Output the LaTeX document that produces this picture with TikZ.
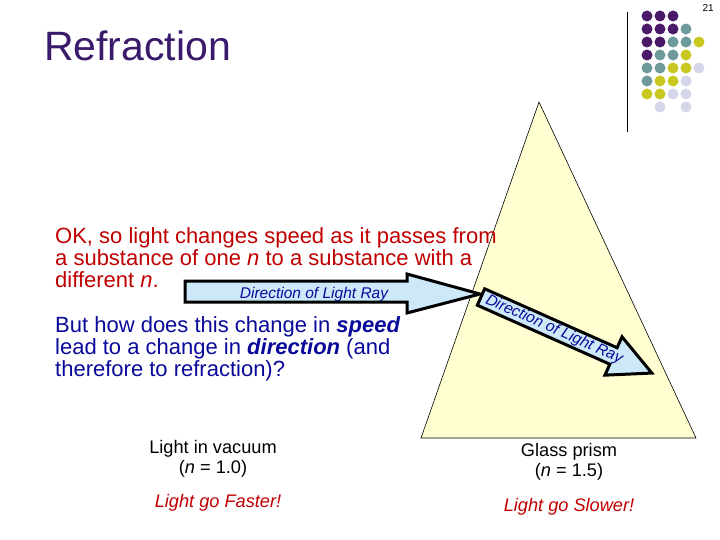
\documentclass[tikz,border=0pt]{standalone}
\usepackage{fontspec}
\setmainfont{Liberation Sans}
\definecolor{ttl}{HTML}{3A1A6A}
\definecolor{rd}{HTML}{C00000}
\definecolor{bl}{HTML}{0A0A9A}
\definecolor{pp}{HTML}{4A1A68}
\definecolor{tl}{HTML}{6E9A9C}
\definecolor{yl}{HTML}{C8C820}
\definecolor{lv}{HTML}{D6D6EA}
\definecolor{prism}{HTML}{FFFFD2}
\definecolor{arr}{HTML}{CDE8F8}
\begin{document}
\begin{tikzpicture}[x=1pt,y=-1pt,
  dot/.style={circle,inner sep=0pt,minimum size=11pt},
  bodytxt/.style={anchor=north west,align=left,font=\fontsize{22}{22}\selectfont,inner sep=0pt},
  captxt/.style={align=center,font=\fontsize{18.2}{20}\selectfont,inner sep=0pt},
  arrowlbl/.style={font=\fontsize{15.5}{17}\selectfont\itshape,text=bl,inner sep=0pt},
  fatarrow/.style={draw=black,line width=3pt,fill=arr,line join=miter}]
\useasboundingbox (0,0) rectangle (720,540);
\fill[white] (0,0) rectangle (720,540);
\node[font=\fontsize{10}{12}\selectfont,anchor=north east,inner sep=0pt] (num) at (714,4) {21};
\node[font=\fontsize{41}{46}\selectfont,text=ttl,anchor=west,inner sep=0pt] (title) at (44,46) {Refraction};
\draw[line width=0.8pt] (627,12) -- (627,132);
% dots
\foreach \c/\x/\y in {pp/0/0,pp/1/0,pp/2/0,
 pp/0/1,pp/1/1,pp/2/1,tl/3/1,
 pp/0/2,pp/1/2,tl/2/2,tl/3/2,yl/4/2,
 pp/0/3,tl/1/3,tl/2/3,yl/3/3,
 tl/0/4,tl/1/4,yl/2/4,yl/3/4,lv/4/4,
 tl/0/5,yl/1/5,yl/2/5,lv/3/5,
 yl/0/6,yl/1/6,lv/2/6,lv/3/6,
 lv/1/7,lv/3/7}
 {\node[dot,fill=\c] (d\x\y) at ({647+13*\x},{16+13*\y}) {};}
% prism
\draw[fill=prism,line width=0.6pt] (539,102) -- (696,438) -- (421,438) -- cycle;
% arrow 1
\draw[fatarrow] (185,281) -- (407,281) -- (407,274) -- (480,294) -- (407,313) -- (407,302) -- (185,302) -- cycle;
\node[arrowlbl] (l1) at (314,294) {Direction of Light Ray};
% arrow 2
\begin{scope}[shift={(481,297)},rotate=-24]
\draw[fatarrow] (0,-9) -- (145,-9) -- (145,-21) -- (187,0) -- (145,21) -- (145,9) -- (0,9) -- cycle;
\node[arrowlbl,rotate=-24] (l2) at (80,0) {Direction of Light Ray};
\end{scope}
% texts
\node[bodytxt,text=rd] (t1) at (55,227) {OK, so light changes speed as it passes from\\a substance of one \textit{n} to a substance with a\\different \textit{n}.};
\node[bodytxt,text=bl] (t2) at (55,316) {But how does this change in \textbf{\textit{speed}}\\lead to a change in \textbf{\textit{direction}} (and\\therefore to refraction)?};
\node[captxt] (c1) at (213,459) {Light in vacuum\\(\textit{n} = 1.0)};
\node[captxt,text=rd,font=\fontsize{18.2}{20}\selectfont\itshape] (f1) at (218,503) {Light go Faster!};
\node[captxt] (c2) at (569,462) {Glass prism\\(\textit{n} = 1.5)};
\node[captxt,text=rd,font=\fontsize{18.2}{20}\selectfont\itshape] (f2) at (569,507) {Light go Slower!};
\end{tikzpicture}
\end{document}
